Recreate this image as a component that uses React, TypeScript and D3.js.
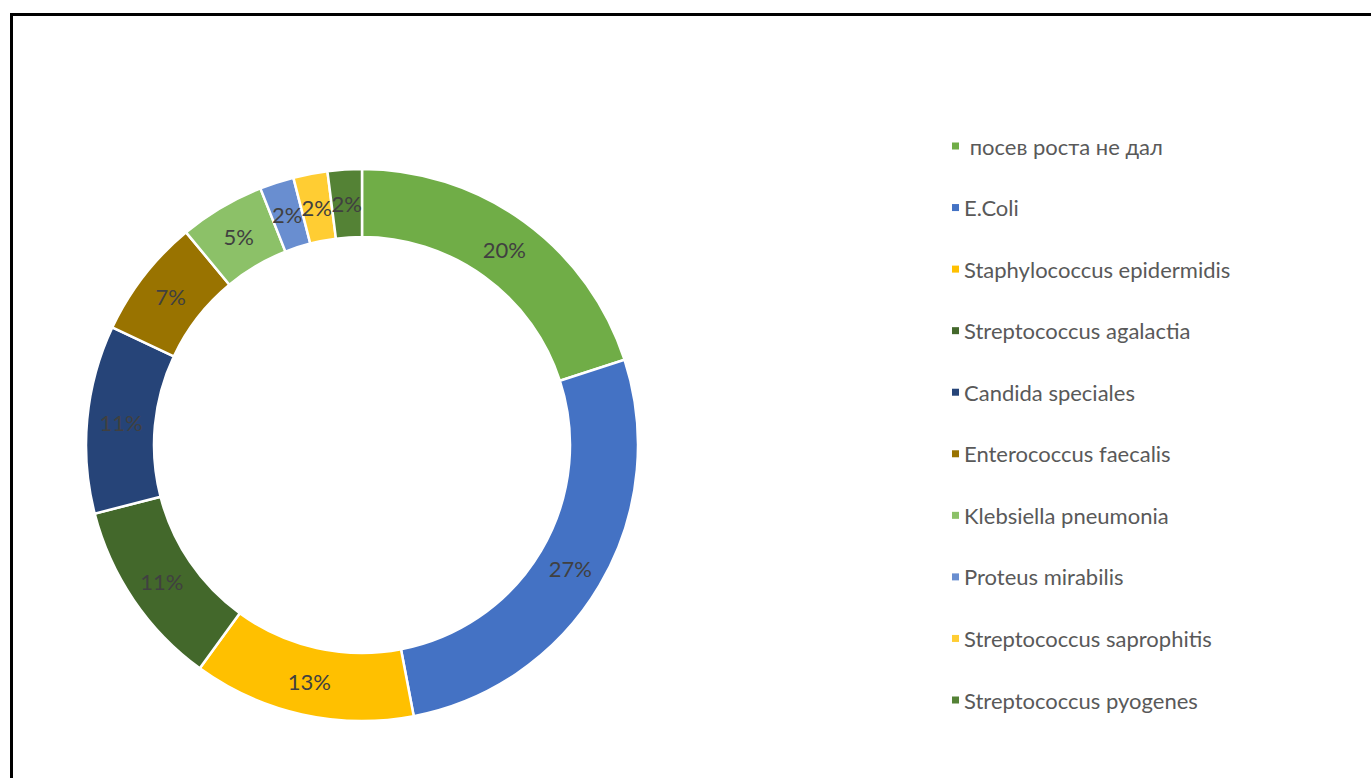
import React from "react";
import * as d3 from "d3";

const categories = [
  " посев роста не дал",
  "E.Coli",
  "Staphylococcus epidermidis",
  "Streptococcus agalactia",
  "Candida speciales",
  "Enterococcus faecalis",
  "Klebsiella pneumonia",
  "Proteus mirabilis",
  "Streptococcus saprophitis",
  "Streptococcus pyogenes",
];
const values = [20, 27, 13, 11, 11, 7, 5, 2, 2, 2];
const labels = ["20%", "27%", "13%", "11%", "11%", "7%", "5%", "2%", "2%", "2%"];
const colors = [
  "#70AD47",
  "#4472C4",
  "#FFC000",
  "#43682B",
  "#264478",
  "#997300",
  "#8CC168",
  "#698ED0",
  "#FFCD33",
  "#548235",
];

const W = 1371;
const H = 778;
const CX = 362;
const CY = 445;
const R_OUT = 276;
const R_IN = 208;

export default function App() {
  const pie = d3
    .pie<number>()
    .sort(null)
    .value((d) => d)
    .startAngle(0)
    .endAngle(2 * Math.PI);
  const arcs = pie(values);
  const arc = d3.arc<d3.PieArcDatum<number>>().innerRadius(R_IN).outerRadius(R_OUT);

  const legendY = d3
    .scalePoint<number>()
    .domain(d3.range(categories.length))
    .range([146, 700]);

  return (
    <svg
      width={W}
      height={H}
      style={{ position: "absolute", left: 0, top: 0, display: "block", background: "#fff" }}
    >
      <rect x={11.5} y={14.5} width={W + 50} height={H + 50} fill="none" stroke="#000" strokeWidth={3} />
      <g transform={`translate(${CX},${CY})`}>
        {arcs.map((a, i) => (
          <path key={i} d={arc(a) || ""} fill={colors[i]} stroke="#fff" strokeWidth={2.5} />
        ))}
        {arcs.map((a, i) => {
          const [x, y] = arc.centroid(a);
          return (
            <text
              key={"l" + i}
              x={x}
              y={y}
              textAnchor="middle"
              dominantBaseline="central"
              fontFamily="Lato, 'Liberation Sans', sans-serif"
              fontSize={22}
              fill="#404040"
            >
              {labels[i]}
            </text>
          );
        })}
      </g>
      <g fontFamily="Lato, 'Liberation Sans', sans-serif" fontSize={22} fill="#595959">
        {categories.map((c, i) => {
          const y = legendY(i) as number;
          return (
            <g key={"g" + i}>
              <rect x={952} y={y - 3.5} width={7} height={7} fill={colors[i]} />
              <text x={964} y={y} dominantBaseline="central" xmlSpace="preserve" style={{ whiteSpace: "pre" }}>
                {c}
              </text>
            </g>
          );
        })}
      </g>
    </svg>
  );
}
